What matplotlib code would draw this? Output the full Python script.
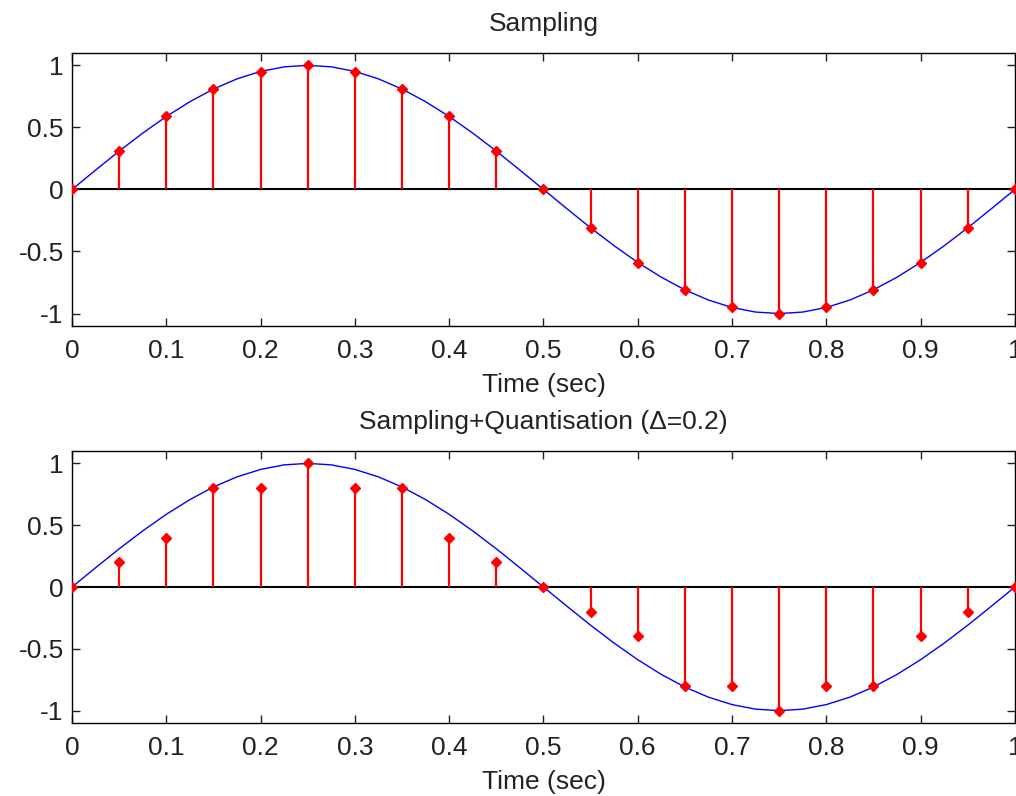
import matplotlib.pyplot as plt

plt.rcParams['font.family'] = ['Liberation Sans', 'DejaVu Sans']

# sample instants and values
t_samp = [0.0, 0.05, 0.1, 0.15, 0.2, 0.25, 0.3, 0.35, 0.4, 0.45, 0.5,
          0.55, 0.6, 0.65, 0.7, 0.75, 0.8, 0.85, 0.9, 0.95, 1.0]
x_samp = [0.0, 0.31, 0.59, 0.81, 0.95, 1.0, 0.95, 0.81, 0.59, 0.31, 0.0,
          -0.31, -0.59, -0.81, -0.95, -1.0, -0.95, -0.81, -0.59, -0.31, 0.0]
x_quant = [0.0, 0.2, 0.4, 0.8, 0.8, 1.0, 0.8, 0.8, 0.4, 0.2, 0.0,
           -0.2, -0.4, -0.8, -0.8, -1.0, -0.8, -0.8, -0.4, -0.2, 0.0]

# continuous (blue) curve
t_cont = [0.0, 0.025, 0.05, 0.075, 0.1, 0.125, 0.15, 0.175, 0.2, 0.225,
          0.25, 0.275, 0.3, 0.325, 0.35, 0.375, 0.4, 0.425, 0.45, 0.475,
          0.5, 0.525, 0.55, 0.575, 0.6, 0.625, 0.65, 0.675, 0.7, 0.725,
          0.75, 0.775, 0.8, 0.825, 0.85, 0.875, 0.9, 0.925, 0.95, 0.975, 1.0]
x_cont = [0.0, 0.156, 0.309, 0.454, 0.588, 0.707, 0.809, 0.891, 0.951, 0.988,
          1.0, 0.988, 0.951, 0.891, 0.809, 0.707, 0.588, 0.454, 0.309, 0.156,
          0.0, -0.156, -0.309, -0.454, -0.588, -0.707, -0.809, -0.891, -0.951, -0.988,
          -1.0, -0.988, -0.951, -0.891, -0.809, -0.707, -0.588, -0.454, -0.309, -0.156, 0.0]

xticks = [0, 0.1, 0.2, 0.3, 0.4, 0.5, 0.6, 0.7, 0.8, 0.9, 1]
xlabels = ['0', '0.1', '0.2', '0.3', '0.4', '0.5', '0.6', '0.7', '0.8', '0.9', '1']
yticks = [-1, -0.5, 0, 0.5, 1]
ylabels = ['-1', '-0.5', '0', '0.5', '1']

fig = plt.figure(figsize=(10.16, 7.96), dpi=100)
ax1 = fig.add_axes([0.0709, 0.5905, 0.928, 0.3430])
ax2 = fig.add_axes([0.0709, 0.0917, 0.928, 0.3417])

fs = 19
for ax, vals, title in [(ax1, x_samp, 'Sampling'),
                        (ax2, x_quant, 'Sampling+Quantisation (\u0394=0.2)')]:
    ax.plot(t_cont, x_cont, color='#0000ff', lw=1.0, zorder=2)
    ax.axhline(0, color='black', lw=1.5, zorder=1)
    ax.vlines(t_samp, 0, vals, color='#ff0000', lw=1.6, zorder=3)
    ax.plot(t_samp, vals, 'D', color='#ff0000', ms=5, zorder=4)
    ax.set_xlim(0, 1)
    ax.set_ylim(-1.1, 1.1)
    ax.set_xticks(xticks)
    ax.set_xticklabels(xlabels)
    ax.set_yticks(yticks)
    ax.set_yticklabels(ylabels)
    ax.tick_params(direction='in', top=True, right=True, length=6, width=1,
                   labelsize=fs, colors='#222222')
    ax.tick_params(axis='x', pad=9.5)
    ax.tick_params(axis='y', pad=6)
    for sp in ax.spines.values():
        sp.set_linewidth(1.0)
    ax.set_xlabel('Time (sec)', fontsize=fs, labelpad=7, color='#222222')
    ax.set_title(title, fontsize=fs, pad=15.5, color='#222222')

fig.savefig('out.png', dpi=100)
